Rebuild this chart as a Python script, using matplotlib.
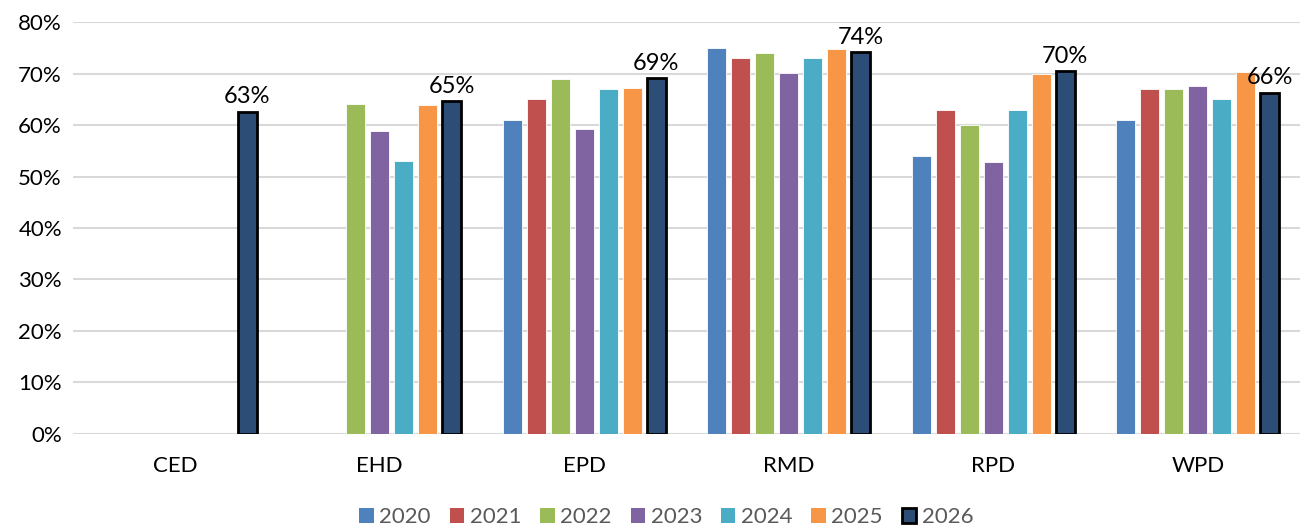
import numpy as np
import matplotlib
matplotlib.use("Agg")
from matplotlib import pyplot as plt
from matplotlib.patches import Patch

plt.rcParams['font.family'] = ['Lato', 'DejaVu Sans']

divisions = ['CED', 'EHD', 'EPD', 'RMD', 'RPD', 'WPD']
years = ['2020', '2021', '2022', '2023', '2024', '2025', '2026']

# percent values per year, one entry per division (nan = no data)
v2020 = [np.nan, np.nan, 61.0, 75.0, 54.0, 61.0]
v2021 = [np.nan, np.nan, 65.0, 73.0, 63.0, 67.0]
v2022 = [np.nan, 64.0, 69.0, 74.0, 60.0, 67.0]
v2023 = [np.nan, 58.8, 59.3, 70.1, 52.8, 67.6]
v2024 = [np.nan, 53.0, 67.0, 73.0, 63.0, 65.0]
v2025 = [np.nan, 63.8, 67.1, 74.8, 70.0, 70.3]
v2026 = [62.6, 64.7, 69.1, 74.1, 70.4, 66.3]

series = [v2020, v2021, v2022, v2023, v2024, v2025, v2026]
colors = ['#4F81BD', '#C0504D', '#9BBB59', '#8064A2', '#4BACC6', '#F79646', '#2C4D75']

fig = plt.figure(figsize=(13.04, 5.29), dpi=100)
ax = fig.add_axes([0.056, 0.1796, 0.941, 0.7788])

x = np.arange(len(divisions))
step = 0.1174
width = 0.093

for i, (vals, col) in enumerate(zip(series, colors)):
    pos = x + (i - 3) * step
    if i == 6:
        bars = ax.bar(pos, vals, width, color=col, edgecolor='black', linewidth=2, zorder=3)
        for b, v in zip(bars, vals):
            ax.text(b.get_x() + b.get_width() / 2, v + 0.8, f'{round(v)}%',
                    ha='center', va='bottom', fontsize=17, color='black', zorder=4)
    else:
        ax.bar(pos, vals, width, color=col, edgecolor='white', linewidth=0.6, zorder=3)

ax.set_xlim(-0.5, len(divisions) - 0.5)
ax.set_ylim(0, 80)
ax.set_yticks(np.arange(0, 81, 10))
ax.set_yticklabels([f'{t}%' for t in range(0, 81, 10)], fontsize=16)
ax.set_xticks(x)
ax.set_xticklabels(divisions, fontsize=16)
ax.tick_params(axis='both', length=0)
ax.tick_params(axis='x', pad=16)
ax.tick_params(axis='y', pad=8)

ax.grid(axis='y', color='#D9D9D9', linewidth=1.5, zorder=0)
for s in ax.spines.values():
    s.set_visible(False)

handles = []
for i, (yr, col) in enumerate(zip(years, colors)):
    if i == 6:
        handles.append(Patch(facecolor=col, edgecolor='black', linewidth=2, label=yr))
    else:
        handles.append(Patch(facecolor=col, edgecolor='none', label=yr))
fig.legend(handles=handles, loc='center', bbox_to_anchor=(0.511, 0.022), ncol=7,
           frameon=False, fontsize=16, handlelength=0.65, handleheight=0.65,
           handletextpad=0.25, columnspacing=0.85, labelcolor='#595959')

fig.savefig('out.png', dpi=100)
